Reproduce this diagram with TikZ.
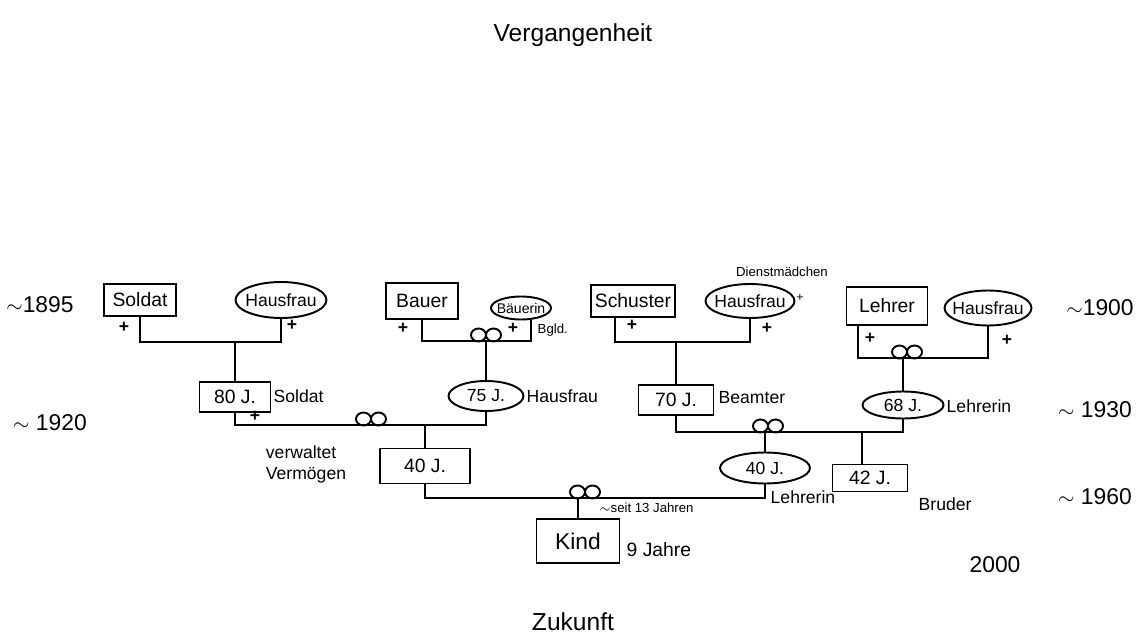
\documentclass[tikz,border=0pt]{standalone}
\usepackage{fontspec}
\setmainfont{Liberation Sans}
\usepackage{amsmath}
\usepackage{tikz}
\usetikzlibrary{shapes.geometric}

\newcommand\ovaltext[1]{\makebox[0pt]{#1}}

\tikzset{ring/.pic={
  \draw (-0.15cm,0) ellipse [x radius=0.15cm,y radius=0.13cm]
        (0.15cm,0) ellipse [x radius=0.15cm,y radius=0.13cm];}}

\begin{document}
\begin{tikzpicture}[x=0.02cm,y=-0.02cm,line width=1.1pt,
  box/.style={draw,rectangle,minimum height=0.64cm,minimum width=1.45cm,inner sep=2pt,
    font=\fontsize{11}{13}\selectfont},
  oval/.style={draw,ellipse,minimum height=0.64cm,minimum width=1.7cm,
    inner sep=0pt,font=\fontsize{10}{12}\selectfont},
  note/.style={font=\fontsize{10}{12}\selectfont,inner sep=1pt},
  small/.style={font=\fontsize{7.5}{9}\selectfont,inner sep=1pt},
  year/.style={font=\fontsize{13}{15}\selectfont,inner sep=1pt},
  plus/.style={font=\fontsize{10}{10}\selectfont\bfseries,inner sep=0pt}]
\useasboundingbox (0,0) rectangle (1147,635);

% Zeitachse
\node[font=\fontsize{14}{16}\selectfont] (VG) at (573,35) {Vergangenheit};
\node[font=\fontsize{14}{16}\selectfont] (ZK) at (573,622) {Zukunft};
\node[year] (Y1) at (40,305) {$\sim$1895};
\node[year] (Y2) at (50,423) {$\sim$ 1920};
\node[year] (Y3) at (1100,308) {$\sim$1900};
\node[year] (Y4) at (1095,410) {$\sim$ 1930};
\node[year] (Y5) at (1095,497) {$\sim$ 1960};
\node[year] (Y6) at (995,565) {2000};

% Grosseltern
\node[box] (SO) at (140,300) {Soldat};
\node[oval,minimum width=1.82cm,minimum height=0.72cm] (HF1) at (281,300) {\ovaltext{Hausfrau}};
\node[box,minimum height=0.72cm] (BA) at (422,301) {Bauer};
\node[oval,minimum width=1.2cm,minimum height=0.46cm,
  font=\fontsize{8}{9}\selectfont] (BI) at (521,308) {\ovaltext{Bäuerin}};
\node[box,minimum width=1.6cm] (SC) at (633,301) {Schuster};
\node[oval,minimum width=1.78cm,minimum height=0.68cm] (HF2) at (750,301) {\ovaltext{Hausfrau}};
\node[box,minimum width=1.62cm,minimum height=0.76cm] (LE) at (887,306) {Lehrer};
\node[oval,minimum width=1.74cm,minimum height=0.7cm] (HF3) at (988,308) {\ovaltext{Hausfrau}};

% Eltern
\node[box,minimum width=1.42cm,minimum height=0.6cm] (J80) at (235,397) {80 J.};
\node[oval,minimum width=1.5cm,minimum height=0.6cm] (J75) at (486,396) {\ovaltext{75 J.}};
\node[box,minimum width=1.5cm,minimum height=0.6cm] (J70) at (676,400) {70 J.};
\node[oval,minimum width=1.62cm,minimum height=0.54cm] (J68) at (903,405) {\ovaltext{68 J.}};
\node[box,minimum width=1.8cm,minimum height=0.7cm] (V40) at (425,466) {40 J.};
\node[oval,minimum width=1.8cm,minimum height=0.62cm] (M40) at (765,468) {\ovaltext{40 J.}};
\node[box,minimum width=1.5cm,minimum height=0.54cm] (B42) at (870,478) {42 J.};
\node[box,minimum width=1.66cm,minimum height=0.88cm,font=\fontsize{13}{15}\selectfont] (K) at (578,541) {Kind};

% Linien
\coordinate (A1) at (235,342);
\draw (SO) |- (A1) -| (HF1);
\draw (A1) -- (J80);

\coordinate (A2) at (486,341);
\draw (BA) |- (A2) -| ([xshift=0.2cm]BI.south);
\draw (A2) -- (J75);
\pic (R2) at (486,335) {ring};

\coordinate (A3) at (425,425);
\draw (J75) |- (A3) -| (J80);
\draw (A3) -- (V40);
\pic (R3) at (371,419) {ring};

\coordinate (A5) at (578,498);
\draw (V40) |- (A5) -| (M40);
\draw (A5) -- (K);
\pic (R5) at (585,492) {ring};

\coordinate (A6) at (676,342);
\draw ([xshift=-0.36cm]SC.south) |- (A6) -| (HF2);
\draw (A6) -- (J70);

\coordinate (A7) at (903,358);
\draw ([xshift=-0.58cm]LE.south) |- (A7) -| (HF3);
\draw (A7) -- (J68);
\pic (R7) at (907,352) {ring};

\coordinate (A8) at (765,432);
\draw (J70) |- (A8) -| (J68);
\draw (A8) -- (M40);
\pic (R8) at (768,426) {ring};
\coordinate (A9) at (862,432);
\draw (A9) -- (A9 |- B42.north);

% Kreuze
\node[plus] (P1) at (124,327) {+};
\node[plus] (P2) at (292,325) {+};
\node[plus] (P3) at (403,328) {+};
\node[plus] (P4) at (513,328) {+};
\node[plus] (P5) at (632,325) {+};
\node[plus] (P6) at (767,328) {+};
\node[plus,font=\fontsize{7}{7}\selectfont] (P7) at (800,298) {+};
\node[plus] (P8) at (870,338) {+};
\node[plus] (P9) at (1007,340) {+};
\node[plus] (P10) at (255,416) {+};

% Berufe und Notizen
\node[note,anchor=west] (N1) at (271,396) {Soldat};
\node[note,anchor=west] (N2) at (524,396) {Hausfrau};
\node[note,anchor=west] (N3) at (716,398) {Beamter};
\node[note,anchor=west] (N4) at (944,406) {Lehrerin};
\node[note,anchor=west] (N5) at (768,497) {Lehrerin};
\node[note,anchor=west] (N6) at (916,504) {Bruder};
\node[note,anchor=west,font=\fontsize{11}{13}\selectfont] (N7) at (624,550) {9 Jahre};
\node[small,anchor=west] (N8) at (597,508) {$\sim$seit 13 Jahren};
\node[small,anchor=west] (N9) at (535,330) {Bgld.};
\node[small] (N10) at (782,272) {Dienstmädchen};
\node[note,align=left] (N11) at (306,464) {verwaltet\\Vermögen};

\end{tikzpicture}
\end{document}
